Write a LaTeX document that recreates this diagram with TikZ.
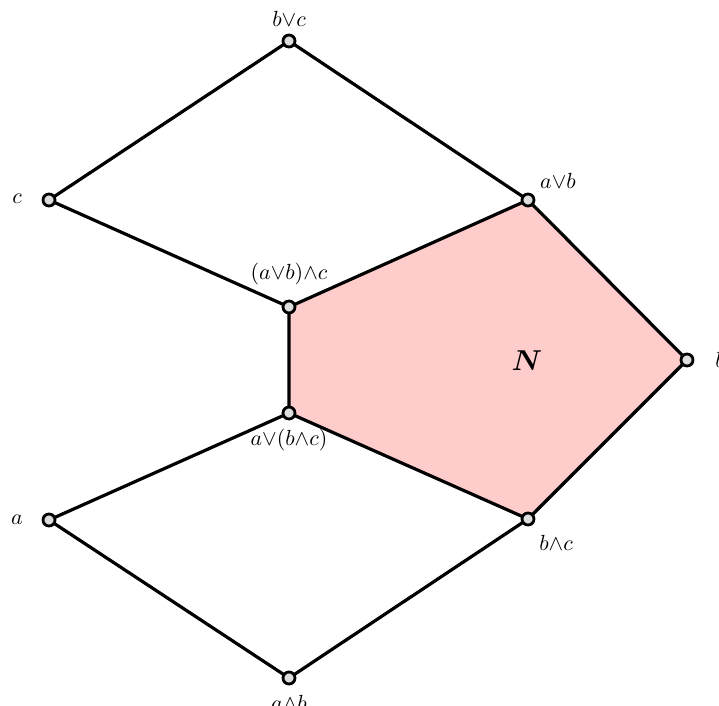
\documentclass[tikz,border=0pt]{standalone}
\usepackage{bm}
\begin{document}
\begin{tikzpicture}[x=0.5pt,y=-0.5pt,
  vert/.style={circle,draw=black,fill=black!13,line width=1.4pt,inner sep=0pt,minimum size=6pt},
  edge/.style={line width=1.6pt,line join=round},
  lab/.style={inner sep=0pt,font=\fontsize{11}{13}\selectfont}]
\useasboundingbox (0,0) rectangle (719,706);
\clip (0,0) rectangle (719,706);
\coordinate (bvc) at (289,41);
\coordinate (c) at (49,200);
\coordinate (avb) at (528,200);
\coordinate (avbc) at (289,307);
\coordinate (b) at (687,360);
\coordinate (abvc) at (289,413);
\coordinate (a) at (49,520);
\coordinate (bwc) at (528,519);
\coordinate (awb) at (289,678);
\fill[red!20] (avbc) -- (avb) -- (b) -- (bwc) -- (abvc) -- cycle;
\draw[edge] (c) -- (bvc) -- (avb) -- (b) -- (bwc) -- (awb) -- (a) -- (abvc) -- (avbc) -- (c);
\draw[edge] (avbc) -- (avb);
\draw[edge] (abvc) -- (bwc);
\foreach \p in {bvc,c,avb,avbc,b,abvc,a,bwc,awb} \node[vert] (v\p) at (\p) {};
\node[lab] (lbvc) at (289,19) {$b{\vee}c$};
\node[lab] (lc) at (17,199) {$c$};
\node[lab] (lavb) at (558,181) {$a{\vee}b$};
\node[lab] (lavbc) at (289,274) {$(a{\vee}b){\wedge}c$};
\node[lab] (lb) at (720,360) {$b$};
\node[lab] (labvc) at (289,440) {$a{\vee}(b{\wedge}c)$};
\node[lab] (la) at (17,520) {$a$};
\node[lab] (lbwc) at (556,543) {$b{\wedge}c$};
\node[lab] (lawb) at (289,703) {$a{\wedge}b$};
\node[inner sep=0pt,font=\fontsize{13.5}{16}\selectfont] (N) at (527,361) {$\bm{N}$};
\end{tikzpicture}
\end{document}
